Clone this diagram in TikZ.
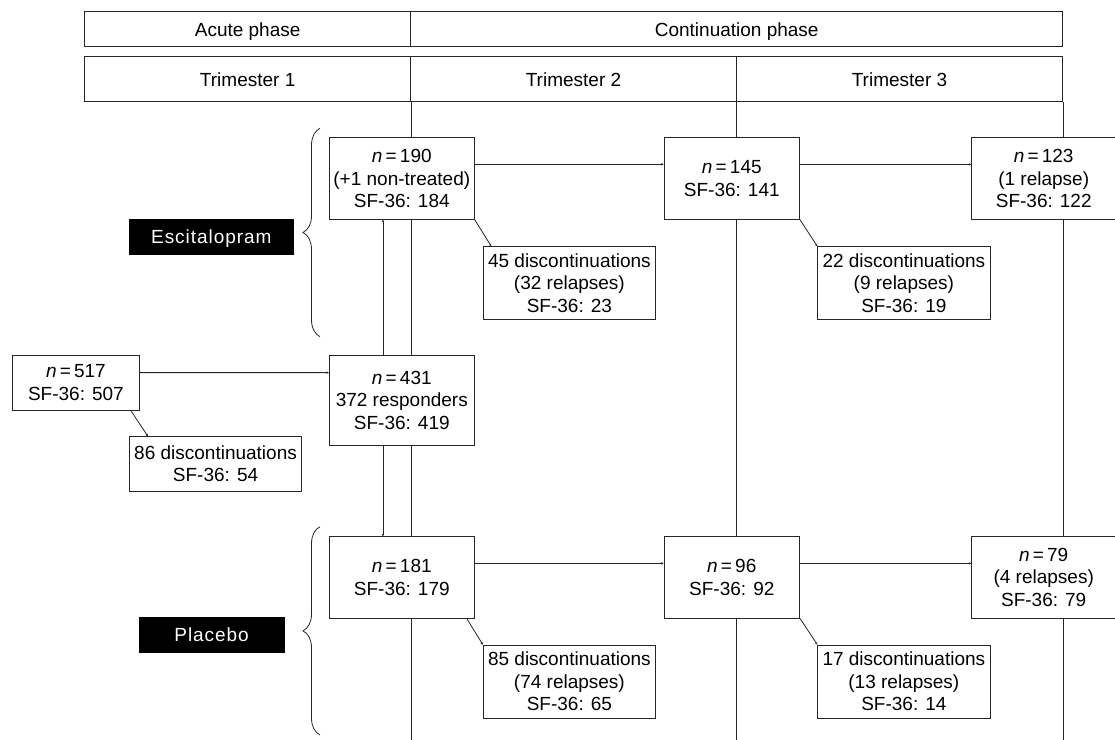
\documentclass[tikz,border=0pt]{standalone}
\usepackage{fontspec}
\setmainfont{Liberation Sans}
\newfontfamily\spacedfont[LetterSpace=5]{Liberation Sans}
\usetikzlibrary{arrows.meta,calc,decorations.pathreplacing}
\tikzset{
  lineclr/.style={draw=black!85, line width=0.8pt},
  cell/.style={lineclr, rectangle, inner sep=0pt, text height=13.6pt, text depth=0pt, font=\fontsize{19}{22.5}\selectfont},
  box/.style={lineclr, rectangle, fill=white, inner sep=0pt, align=center, font=\fontsize{19}{22.5}\selectfont},
  tag/.style={rectangle, fill=black, text=white, inner sep=0pt, text height=13.6pt, text depth=0pt, font=\fontsize{19}{22.5}\spacedfont},
  conn/.style={lineclr, -{Stealth[length=2.5pt,width=2.5pt]}},
  grid/.style={lineclr},
  bracestyle/.style={lineclr, decorate, decoration={brace, amplitude=17pt, aspect=0.5}}
}
\newcommand{\nn}{\textit{n}\,=\,}
\begin{document}
\begin{tikzpicture}[x=1pt,y=-1pt]
\useasboundingbox[fill=white] (0,0) rectangle (1115,739);
% header
\node[cell, minimum width=326.1pt, minimum height=35pt] (acute) at (247.65,29.2) {Acute phase};
\node[cell, minimum width=652pt, minimum height=35pt] (cont) at (736.7,29.2) {Continuation phase};
\node[cell, minimum width=326.1pt, minimum height=45pt] (tri1) at (247.65,79.2) {Trimester 1};
\node[cell, minimum width=325.6pt, minimum height=45pt] (tri2) at (573.5,79.2) {Trimester 2};
\node[cell, minimum width=326.4pt, minimum height=45pt] (tri3) at (899.5,79.2) {Trimester 3};
\coordinate (bot) at (0,740);
\draw[grid] (tri1.south east) -- (tri1.south east |- bot);
\draw[grid] (tri2.south east) -- (tri2.south east |- bot);
\draw[grid] (tri3.south east) -- (tri3.south east |- bot);
% braces
\coordinate (be1) at (320,336.7);
\coordinate (be2) at (320,128.3);
\coordinate (bp1) at (320,735);
\coordinate (bp2) at (320,526.7);
\draw[bracestyle] (be1) -- (be2);
\draw[bracestyle] (bp1) -- (bp2);
% tags
\node[tag, minimum width=164.6pt, minimum height=35.4pt] (esc) at (211.3,237) {Escitalopram};
\node[tag, minimum width=146pt, minimum height=35.4pt] (plac) at (211.6,635) {Placebo};
% boxes
\node[box, minimum width=126.8pt, minimum height=55pt] (n517) at (75.9,382.5) {\nn517\\SF-36: 507};
\node[box, minimum width=172.5pt, minimum height=54.3pt] (d86) at (215.55,463.85) {86 discontinuations\\SF-36: 54};
\node[box, minimum width=145pt, minimum height=90.7pt] (n431) at (401.8,400.35) {\nn431\\372 responders\\SF-36: 419};
\node[box, minimum width=145pt, minimum height=81.6pt] (n190) at (401.8,178.5) {\nn190\\(+1 non-treated)\\SF-36: 184};
\node[box, minimum width=135.6pt, minimum height=81.6pt] (n145) at (731.8,178.5) {\nn145\\SF-36: 141};
\node[box, minimum width=144pt, minimum height=81.6pt] (n123) at (1043.7,178.5) {\nn123\\(1 relapse)\\SF-36: 122};
\node[box, minimum width=172.4pt, minimum height=72.3pt] (d45) at (569.4,282.85) {45 discontinuations\\(32 relapses)\\SF-36: 23};
\node[box, minimum width=172.3pt, minimum height=72.3pt] (d22) at (903.85,282.85) {22 discontinuations\\(9 relapses)\\SF-36: 19};
\node[box, minimum width=145pt, minimum height=81.3pt] (n181) at (401.8,577.35) {\nn181\\SF-36: 179};
\node[box, minimum width=135.6pt, minimum height=81.3pt] (n96) at (731.8,577.35) {\nn96\\SF-36: 92};
\node[box, minimum width=144pt, minimum height=81.3pt] (n79) at (1043.7,577.35) {\nn79\\(4 relapses)\\SF-36: 79};
\node[box, minimum width=172.4pt, minimum height=73pt] (d85) at (569.4,681.5) {85 discontinuations\\(74 relapses)\\SF-36: 65};
\node[box, minimum width=172.3pt, minimum height=73pt] (d17) at (903.85,681.5) {17 discontinuations\\(13 relapses)\\SF-36: 14};
% connectors
\draw[conn] ($(n517.north east)+(0,18)$) -- ($(n431.north west)+(0,18)$);
\draw[conn] ($(n517.south east)+(-9,0)$) -- ($(d86.north west)+(19,0)$);
\draw[conn] ($(n431.north west)+(54,0)$) -- ($(n190.south west)+(54,0)$);
\draw[conn] ($(n431.south west)+(54,0)$) -- ($(n181.north west)+(54,0)$);
\draw[conn] ($(n190.north east)+(0,27)$) -- ($(n145.north west)+(0,27)$);
\draw[conn] ($(n145.north east)+(0,27)$) -- ($(n123.north west)+(0,27)$);
\draw[conn] (n190.south east) -- ($(d45.north west)+(8.5,0)$);
\draw[conn] (n145.south east) -- (d22.north west);
\draw[conn] ($(n181.north east)+(0,27)$) -- ($(n96.north west)+(0,27)$);
\draw[conn] ($(n96.north east)+(0,27)$) -- ($(n79.north west)+(0,27)$);
\draw[conn] ($(n181.south east)+(-8,0)$) -- (d85.north west);
\draw[conn] (n96.south east) -- (d17.north west);
\end{tikzpicture}
\end{document}
